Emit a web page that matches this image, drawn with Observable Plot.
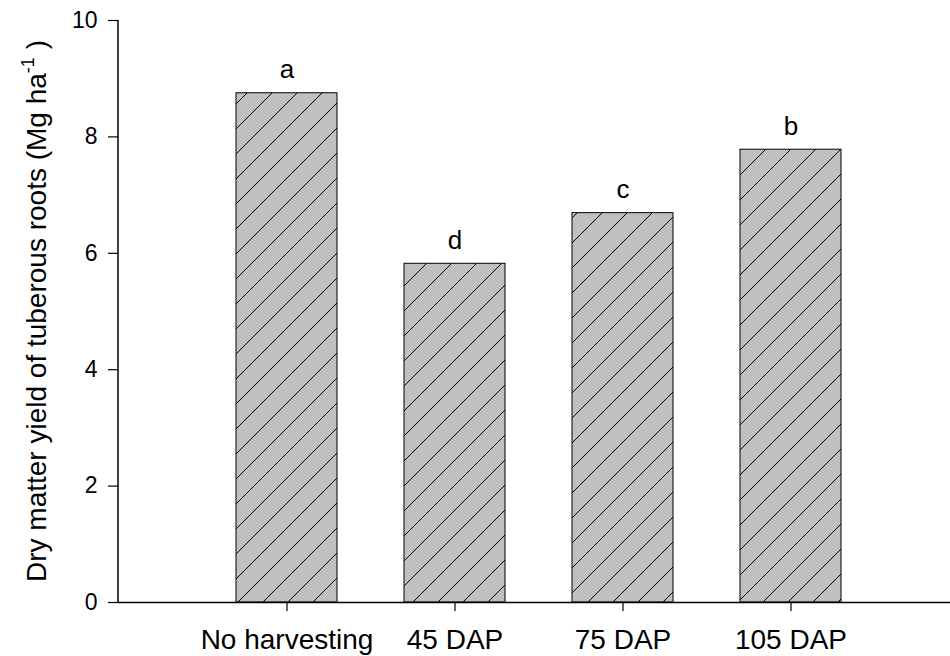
<!DOCTYPE html>
<html>
<head>
<meta charset="utf-8">
<script src="https://cdn.jsdelivr.net/npm/d3@7"></script>
<script src="https://cdn.jsdelivr.net/npm/@observablehq/plot@0.6"></script>
<style>
  html, body { margin: 0; padding: 0; background: #fff; }
  #chart svg { display: block; }
</style>
</head>
<body>
<svg width="0" height="0" style="position:absolute">
  <defs>
    <pattern id="hatch" patternUnits="userSpaceOnUse" x="15" y="0" width="25" height="25">
      <rect width="25" height="25" fill="#c0c0c0"></rect>
      <path d="M-1,26 L26,-1 M-6.25,6.25 L6.25,-6.25 M18.75,31.25 L31.25,18.75" stroke="#000" stroke-width="1"></path>
    </pattern>
  </defs>
</svg>
<div id="chart"></div>
<script>
const categories = ["No harvesting", "45 DAP", "75 DAP", "105 DAP"];
const values = [8.75, 5.82, 6.69, 7.78];
const letters = ["a", "d", "c", "b"];
const yTicks = [0, 2, 4, 6, 8, 10];

const data = categories.map((c, i) => ({cat: c, value: values[i], letter: letters[i]}));
const font = "'Liberation Sans', Arial, sans-serif";

const chart = Plot.plot({
  width: 950,
  height: 656,
  marginLeft: 118,
  marginRight: 0,
  marginTop: 20,
  marginBottom: 54,
  style: {fontFamily: font, color: "#000", background: "#fff"},
  x: {domain: categories, range: [202, 874], paddingInner: 0.4, paddingOuter: 0.2, label: null},
  y: {domain: [0, 10], label: null},
  marks: [
    Plot.barY(data, {x: "cat", y: "value", fill: "url(#hatch)", stroke: "#000", strokeWidth: 1}),
    Plot.text(data, {x: "cat", y: "value", text: "letter", dy: -15, lineAnchor: "bottom", fontSize: 26, fill: "#000"}),
    Plot.ruleY([0], {stroke: "#000", strokeWidth: 1.5}),
    Plot.axisY({ticks: yTicks, tickSize: 10, tickPadding: 11, fontSize: 23, label: null, stroke: "#000", strokeWidth: 1.2}),
    Plot.axisX({tickSize: 9, tickPadding: 18, fontSize: 28, label: null, lineAnchor: "top", stroke: "#000", strokeWidth: 1.2})
  ]
});

document.getElementById("chart").appendChild(chart);

const svg = d3.select(chart);
const yScale = chart.scale("y");

// y axis line along the left side of the frame
svg.append("line")
  .attr("x1", 118).attr("x2", 118)
  .attr("y1", yScale.apply(0)).attr("y2", yScale.apply(10))
  .attr("stroke", "#000").attr("stroke-width", 1.5);

// y-axis title with superscript
const cy = (yScale.apply(0) + yScale.apply(10)) / 2;
const t = svg.append("text")
  .attr("transform", `translate(46,${cy}) rotate(-90)`)
  .attr("text-anchor", "middle")
  .attr("font-family", font)
  .attr("font-size", 28)
  .attr("fill", "#000");
t.append("tspan").text("Dry matter yield of tuberous roots (Mg ha");
t.append("tspan").attr("font-size", 18).attr("dy", -12).text("-1");
t.append("tspan").attr("dy", 12).text(" )");
</script>
</body>
</html>
